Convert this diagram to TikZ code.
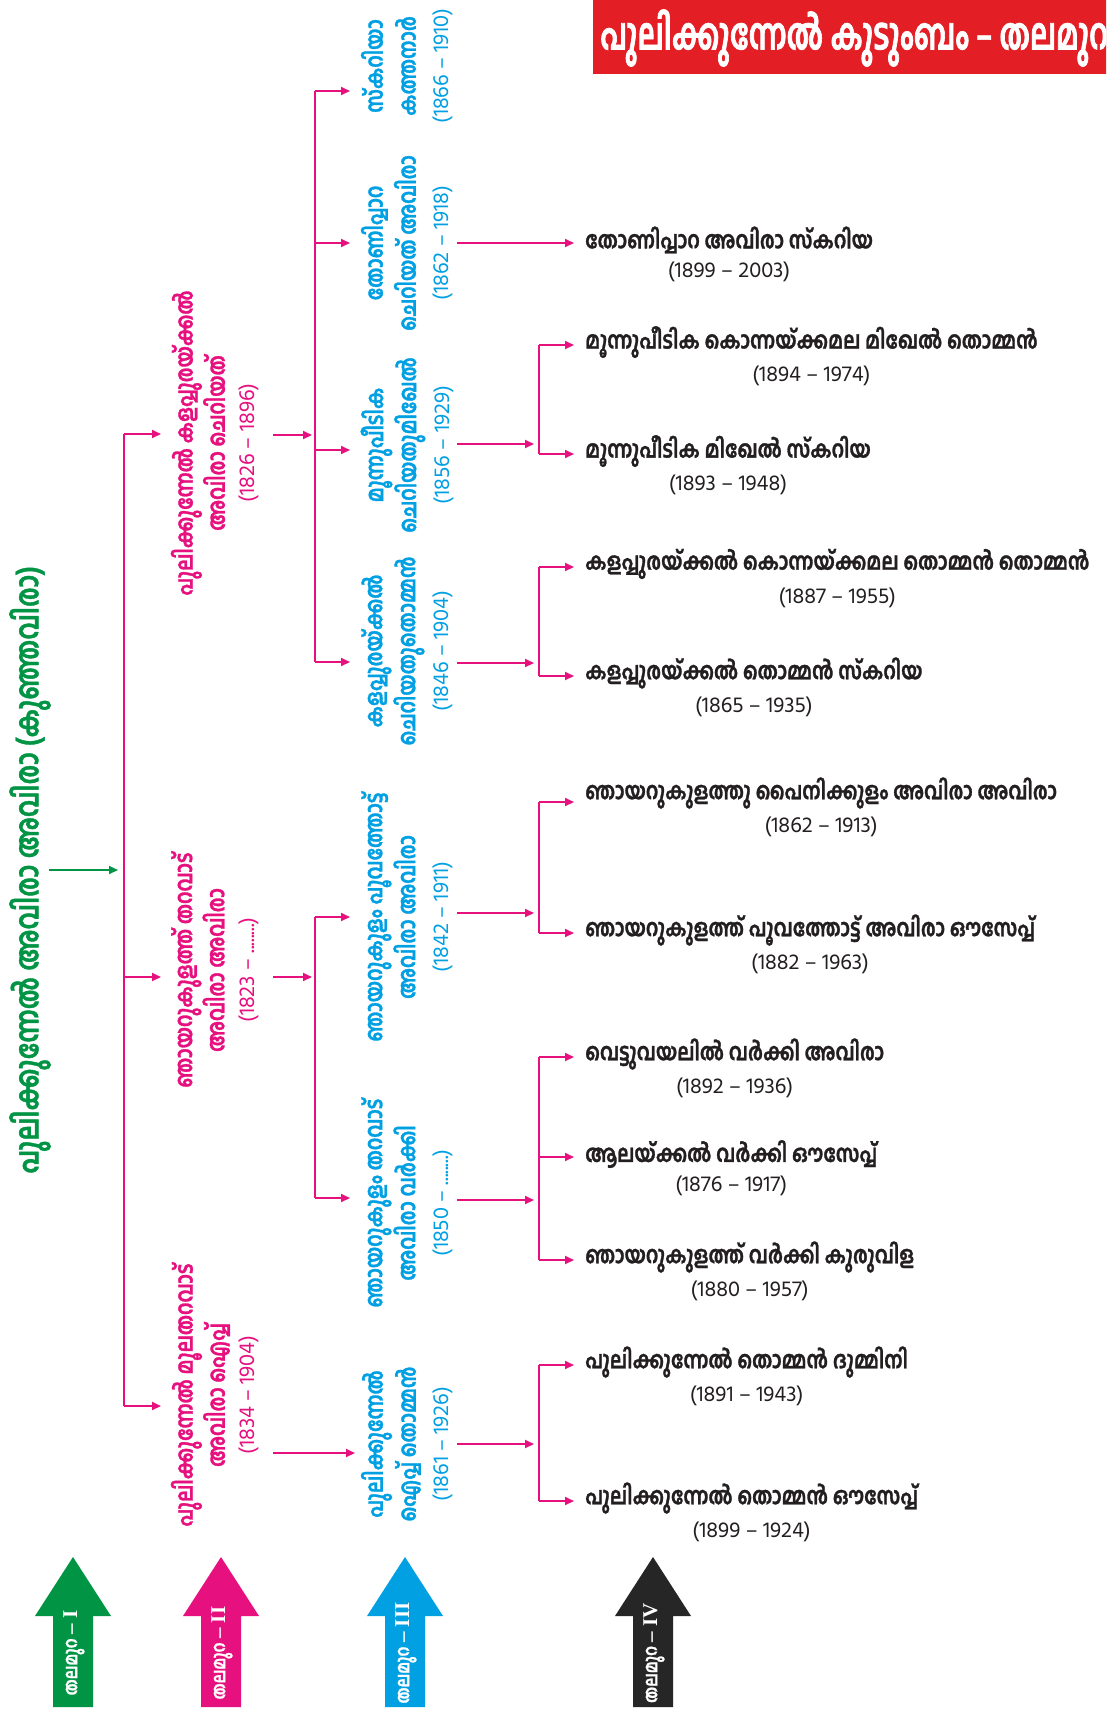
\documentclass[tikz,border=0pt]{standalone}
\usepackage{fontspec}
\newfontfamily\malb[Script=Malayalam,FakeStretch=0.8,BoldFeatures={FakeBold=1.2}]{Hind Kochi}
\newfontfamily\malt[Script=Malayalam,FakeStretch=0.66,BoldFeatures={FakeBold=1.5}]{Hind Kochi}
\newfontfamily\mald[Script=Malayalam]{Hind Kochi}
\newfontfamily\rmn{Liberation Serif}
\usetikzlibrary{arrows.meta}
\definecolor{cgreen}{RGB}{0,148,68}
\definecolor{cpink}{RGB}{230,16,126}
\definecolor{cblue}{RGB}{0,160,227}
\definecolor{cdark}{RGB}{35,31,32}
\definecolor{cred}{RGB}{227,30,36}
\definecolor{cblk}{RGB}{38,38,38}
\newcommand{\dt}[1]{{\mald\mdseries\fontsize{22}{30}\selectfont #1}}
\newcommand{\gf}[4]{%
  \node[gfour] (#1) at (585,#2) {#3};
  \node[gdate] (#1d) at (#1.south) {#4};
}
\newcommand{\genarrow}[4]{%
  \fill[#2] (#1,1557) -- (#1+38,1616) -- (#1+20,1616) -- (#1+20,1707) -- (#1-20,1707) -- (#1-20,1616) -- (#1-38,1616) -- cycle;
  \node[glabel] (#4) at (#1+1,1653) {തലമുറ {\rmn\bfseries\fontsize{21}{22}\selectfont – #3}};
}
\begin{document}
\begin{tikzpicture}[x=1pt,y=-1pt,
  conn/.style={draw=cpink,line width=1.8pt},
  arr/.style={conn,-{Triangle[length=9pt,width=8pt]}},
  garr/.style={draw=cgreen,line width=1.8pt,-{Triangle[length=9pt,width=8pt]}},
  gone/.style={rotate=90,text=cgreen,font=\malb\bfseries\fontsize{32}{36}\selectfont,inner sep=0pt},
  gtwo/.style={rotate=90,align=center,text=cpink,font=\malb\bfseries\fontsize{24}{30}\selectfont,inner sep=0pt},
  gthree/.style={rotate=90,align=center,text=cblue,font=\malb\bfseries\fontsize{24}{33}\selectfont,inner sep=0pt},
  gfour/.style={anchor=west,text=cdark,font=\malb\bfseries\fontsize{24}{26}\selectfont,inner sep=0pt},
  gdate/.style={anchor=north,text=cdark,font=\mald\fontsize{22}{24}\selectfont,inner sep=0pt,yshift=-8pt},
  glabel/.style={rotate=90,text=white,font=\malb\bfseries\fontsize{19}{22}\selectfont,inner sep=0pt},
]
\useasboundingbox (0,0) rectangle (1106,1716);
\fill[white] (0,0) rectangle (1106,1716);

% title
\begin{scope}
\clip (0,0) rectangle (1106,1716);
\fill[cred] (593,0) rectangle (1130,74);
\node[anchor=west,text=white,font=\malt\bfseries\fontsize{44}{48}\selectfont,inner sep=0pt] (title) at (600,38) {പുലിക്കുന്നേൽ കുടുംബം – തലമുറ വൃക്ഷം};
\end{scope}

% generation I
\node[gone] (g1) at (30,870) {പുലിക്കുന്നേൽ അവിരാ അവിരാ (കുഞ്ഞവിരാ)};
\coordinate (g1o) at (49,870);
\coordinate (g1t) at (118,870);
\draw[garr] (g1o) -- (g1t);

% trunk
\coordinate (t1) at (124,434);
\coordinate (t2) at (124,977);
\coordinate (t3) at (124,1406);
\coordinate (b1) at (161,434);
\coordinate (b2) at (161,977);
\coordinate (b3) at (161,1406);
\draw[conn] (t1) -- (t3);
\draw[arr] (t1) -- (b1);
\draw[arr] (t2) -- (b2);
\draw[arr] (t3) -- (b3);

% generation II
\node[gtwo] (g2a) at (215,443) {പുലിക്കുന്നേൽ കളപ്പുരയ്ക്കൽ\\അവിരാ ചെറിയത്\\\dt{(1826 – 1896)}};
\node[gtwo] (g2b) at (215,970) {ഞായറുകുളത്ത് തറവാട്\\അവിരാ അവിരാ\\\dt{(1823 – ........)}};
\node[gtwo] (g2c) at (215,1395) {പുലിക്കുന്നേൽ മൂലതറവാട്\\അവിരാ ഐപ്പ്\\\dt{(1834 – 1904)}};

% II -> III connectors
\coordinate (a1s) at (273,435); \coordinate (a1e) at (312,435);
\coordinate (a2s) at (273,977); \coordinate (a2e) at (312,977);
\coordinate (a3s) at (273,1453); \coordinate (a3e) at (355,1453);
\draw[arr] (a1s) -- (a1e);
\draw[arr] (a2s) -- (a2e);
\draw[arr] (a3s) -- (a3e);
\coordinate (v1a) at (315,91); \coordinate (v1b) at (315,243); \coordinate (v1c) at (315,450); \coordinate (v1d) at (315,662);
\coordinate (w1a) at (350,91); \coordinate (w1b) at (350,243); \coordinate (w1c) at (350,450); \coordinate (w1d) at (350,662);
\draw[conn] (v1a) -- (v1d);
\draw[arr] (v1a) -- (w1a);
\draw[arr] (v1b) -- (w1b);
\draw[arr] (v1c) -- (w1c);
\draw[arr] (v1d) -- (w1d);
\coordinate (v2a) at (315,917); \coordinate (v2b) at (315,1198);
\coordinate (w2a) at (350,917); \coordinate (w2b) at (350,1198);
\draw[conn] (v2a) -- (v2b);
\draw[arr] (v2a) -- (w2a);
\draw[arr] (v2b) -- (w2b);

% generation III
\node[gthree] (g3a) at (407,66) {സ്കറിയാ\\കത്തനാർ\\\dt{(1866 – 1910)}};
\node[gthree] (g3b) at (407,243) {തോണിപ്പാറ\\ചെറിയത് അവിരാ\\\dt{(1862 – 1918)}};
\node[gthree] (g3c) at (407,445) {മൂന്നുപീടിക\\ചെറിയതുമിഖേൽ\\\dt{(1856 – 1929)}};
\node[gthree] (g3d) at (407,651) {കളപ്പുരയ്ക്കൽ\\ചെറിയതുതൊമ്മൻ\\\dt{(1846 – 1904)}};
\node[gthree] (g3e) at (407,917) {ഞായറുകുളം പൂവത്തോട്ട്\\അവിരാ അവിരാ\\\dt{(1842 – 1911)}};
\node[gthree] (g3f) at (407,1203) {ഞായറുകുളം തറവാട്\\അവിരാ വർക്കി\\\dt{(1850 – ........)}};
\node[gthree] (g3g) at (407,1444) {പുലിക്കുന്നേൽ\\ഐപ്പ് തൊമ്മൻ\\\dt{(1861 – 1926)}};

% III -> IV connectors
\coordinate (sb) at (457,243); \coordinate (eb) at (574,243);
\draw[arr] (sb) -- (eb);
\foreach \n/\y/\ya/\yb in {c/444/345/454, d/663/567/676, e/913/802/933, f/1200/1057/1260, g/1444/1365/1501}{
  \coordinate (s\n) at (457,\y);
  \coordinate (e\n) at (534,\y);
  \coordinate (p\n) at (539,\ya);
  \coordinate (q\n) at (539,\yb);
  \coordinate (pp\n) at (574,\ya);
  \coordinate (qq\n) at (574,\yb);
  \draw[arr] (s\n) -- (e\n);
  \draw[conn] (p\n) -- (q\n);
  \draw[arr] (p\n) -- (pp\n);
  \draw[arr] (q\n) -- (qq\n);
}
\coordinate (pf2) at (539,1157); \coordinate (qf2) at (574,1157);
\draw[arr] (pf2) -- (qf2);

% generation IV
\gf{n1}{240}{തോണിപ്പാറ അവിരാ സ്കറിയ}{(1899 – 2003)}
\gf{n2}{342}{മൂന്നുപീടിക കൊന്നയ്ക്കമല മിഖേൽ തൊമ്മൻ}{(1894 – 1974)}
\gf{n3}{451}{മൂന്നുപീടിക മിഖേൽ സ്കറിയ}{(1893 – 1948)}
\gf{n4}{564}{കളപ്പുരയ്ക്കൽ കൊന്നയ്ക്കമല തൊമ്മൻ തൊമ്മൻ}{(1887 – 1955)}
\gf{n5}{673}{കളപ്പുരയ്ക്കൽ തൊമ്മൻ സ്കറിയ}{(1865 – 1935)}
\gf{n6}{793}{ഞായറുകുളത്തു പൈനിക്കുളം അവിരാ അവിരാ}{(1862 – 1913)}
\gf{n7}{930}{ഞായറുകുളത്ത് പൂവത്തോട്ട് അവിരാ ഔസേപ്പ്}{(1882 – 1963)}
\gf{n8}{1054}{വെട്ടുവയലിൽ വർക്കി അവിരാ}{(1892 – 1936)}
\gf{n9}{1154}{ആലയ്ക്കൽ വർക്കി ഔസേപ്പ്}{(1876 – 1917)}
\gf{n10}{1257}{ഞായറുകുളത്ത് വർക്കി കുരുവിള}{(1880 – 1957)}
\gf{n11}{1362}{പുലിക്കുന്നേൽ തൊമ്മൻ ദുമ്മിനി}{(1891 – 1943)}
\gf{n12}{1498}{പുലിക്കുന്നേൽ തൊമ്മൻ ഔസേപ്പ്}{(1899 – 1924)}

% generation arrows at the bottom
\genarrow{73}{cgreen}{I}{lab1}
\genarrow{221}{cpink}{II}{lab2}
\genarrow{405}{cblue}{III}{lab3}
\genarrow{653}{cblk}{IV}{lab4}
\end{tikzpicture}
\end{document}
